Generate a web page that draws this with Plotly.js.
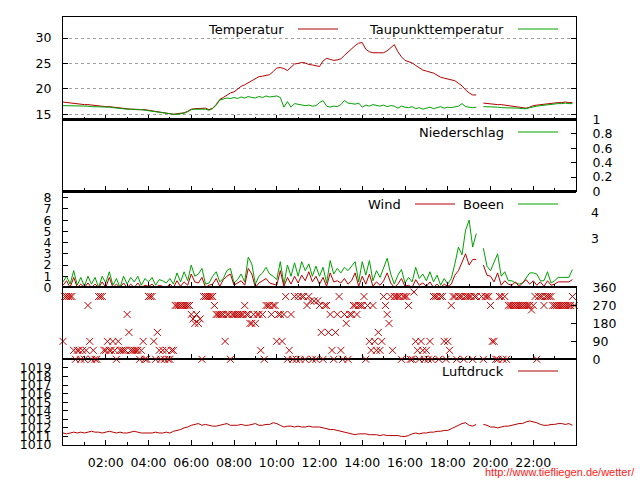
<!DOCTYPE html>
<html><head><meta charset="utf-8">
<script src="https://cdn.plot.ly/plotly-3.0.1.min.js"></script>
<style>html,body{margin:0;padding:0;background:#fff}#chart{width:640px;height:480px}</style>
</head><body><div id="chart"></div>
<script>
// ---- data (10-minute values, 00:00 .. 23:50) ----
const temperatur = [
17.4,17.3,17.3,17.2,17.1,17.0, 16.9,16.9,16.8,16.8,16.7,16.6, 16.5,16.5,16.4,16.3,16.2,16.1,
16.1,16.0,16.0,15.9,15.9,15.9, 15.8,15.7,15.6,15.4,15.3,15.2, 15.1,15.0,15.1,15.2,15.3,15.6,
16.0,16.1,16.1,16.2,16.2,15.9, 16.2,16.9,17.9,18.3,18.7,19.2, 19.4,20.0,20.5,20.8,21.2,21.7,
22.0,22.4,22.5,22.6,22.8,23.4, 24.1,24.2,24.0,23.6,24.2,24.9, 25.0,25.2,25.1,24.8,24.7,24.6,
24.4,25.5,26.0,25.8,25.6,25.7, 25.9,26.6,27.3,27.9,28.5,29.0, 29.1,27.8,27.3,27.1,27.1,27.0,
27.1,27.5,28.2,28.7,27.3,26.3, 25.6,25.4,25.1,24.6,24.1,23.7, 23.5,23.3,23.1,22.7,22.3,22.1,
21.9,21.8,21.6,21.1,20.6,19.8, 19.2,18.8,18.8,null,17.2,17.1, 17.0,16.9,16.9,16.9,16.8,16.8,
16.7,16.6,16.5,16.3,16.2,16.4, 16.7,16.8,16.9,17.0,17.1,17.1, 17.3,17.3,17.3,17.4,17.3,17.3];
const taupunkt = [
16.7,16.7,16.7,16.6,16.6,16.6, 16.6,16.6,16.5,16.5,16.5,16.4, 16.4,16.4,16.3,16.2,16.2,16.1,
16.0,16.0,15.9,15.9,15.9,15.8, 15.7,15.5,15.4,15.3,15.3,15.2, 15.1,15.0,15.0,15.1,15.2,15.5,
15.9,16.0,16.0,16.1,16.0,15.8, 16.1,16.8,17.8,18.0,18.2,18.1, 18.3,18.1,18.4,18.2,18.5,18.3,
18.2,18.5,18.3,18.6,18.4,18.5, 18.6,18.3,16.4,17.5,16.4,17.1, 17.0,16.8,16.7,16.8,16.6,16.7,
17.3,17.7,16.6,16.4,16.6,16.5, 16.9,17.7,17.2,17.1,17.0,17.2, 16.4,16.8,16.6,16.9,16.7,16.6,
16.8,16.5,16.7,16.6,16.2,16.6, 16.4,16.3,16.5,16.1,16.3,16.0, 16.2,16.4,16.1,16.3,16.5,16.2,
16.4,16.3,16.5,16.6,17.1,16.5, 16.4,16.3,16.4,null,16.5,16.5, 16.5,16.4,16.4,16.3,16.3,16.3,
16.3,16.3,16.2,16.1,16.1,16.3, 16.5,16.6,16.7,16.8,16.9,17.0, 17.1,17.1,17.1,17.2,17.1,17.1];
const niederschlag = [];
const wind = [
0.2,0.6,0.0,0.9,0.0,0.3, 0.0,0.4,0.0,0.3,0.0,0.5, 0.0,0.9,0.0,0.3,0.0,0.4,
0.0,0.3,0.0,0.4,0.0,0.2, 0.1,0.3,0.0,0.2,0.1,0.0, 0.3,0.0,0.6,0.1,0.5,0.2,
1.2,0.5,0.4,0.9,0.0,0.2, 0.3,0.8,0.1,0.7,1.0,1.2, 0.2,0.4,0.6,0.2,1.7,1.2,
0.0,0.4,0.6,0.8,0.4,0.3, 0.2,1.5,0.1,0.9,0.3,1.0, 0.4,1.1,0.6,1.4,0.5,1.0,
0.3,0.9,0.1,1.3,0.5,0.6, 0.4,0.8,0.3,0.6,1.3,0.1, 1.0,0.3,1.2,0.1,0.5,0.2,
0.6,1.3,0.4,0.0,0.3,0.8, 0.1,0.2,0.0,0.7,0.2,0.4, 0.1,0.5,0.0,0.3,0.0,0.3,
0.1,0.3,1.1,1.5,2.3,3.0, 2.0,2.5,2.5,null,2.0,1.1, 1.0,0.5,1.3,0.2,0.6,0.3,
0.2,0.5,0.1,0.4,0.7,0.3, 0.6,0.2,0.5,0.1,0.6,0.2, 0.3,0.5,0.5,0.5,0.5,0.7];
const boeen = [
0.5,1.0,0.3,1.5,0.2,0.9, 0.1,1.0,0.3,0.9,0.0,1.0, 0.4,1.4,0.2,0.8,0.0,1.0,
0.3,0.9,0.5,1.0,0.2,0.8, 0.5,0.9,0.2,0.7,0.6,0.4, 0.8,0.3,1.3,0.5,1.4,0.6,
2.0,1.0,1.2,1.7,0.3,0.4, 1.0,1.4,0.5,0.8,1.5,1.7, 0.4,0.7,1.2,0.5,2.7,2.1,
0.3,1.0,1.3,1.8,1.2,1.0, 0.7,2.3,0.3,2.0,1.0,2.2, 1.0,2.3,1.5,2.1,1.0,1.9,
1.0,1.8,0.4,2.4,1.2,1.7, 1.3,1.8,1.5,1.9,2.3,0.5, 2.3,1.1,2.4,0.6,1.5,0.9,
1.8,2.6,1.2,0.3,1.1,1.6, 0.4,0.9,0.5,1.8,0.8,1.2, 0.6,1.4,0.5,1.1,0.2,0.8,
0.3,0.8,2.1,3.6,2.9,5.1, 6.0,3.6,4.8,null,3.5,1.9, 1.5,2.2,3.0,1.0,1.4,0.6,
0.6,0.4,0.3,0.4,0.9,1.3, 1.3,1.2,0.6,0.6,1.4,0.4, 0.6,0.9,0.9,0.9,0.9,1.6];
const luftdruck = [
1011.4,1011.3,1011.4,1011.5,1011.4,1011.5, 1011.4,1011.5,1011.6,1011.5,1011.5,1011.4,
1011.5,1011.6,1011.5,1011.4,1011.5,1011.4, 1011.4,1011.5,1011.6,1011.5,1011.4,1011.4,
1011.4,1011.4,1011.5,1011.4,1011.4,1011.5, 1011.4,1011.6,1011.7,1011.8,1012.0,1012.1,
1012.3,1012.4,1012.5,1012.3,1012.4,1012.3, 1012.2,1012.2,1012.3,1012.4,1012.5,1012.3,
1012.3,1012.3,1012.4,1012.3,1012.3,1012.4, 1012.5,1012.3,1012.3,1012.4,1012.4,1012.6,
1012.5,1012.3,1012.1,1012.2,1012.2,1012.1, 1012.2,1012.1,1012.1,1012.2,1012.1,1012.1,
1012.1,1012.0,1011.9,1011.8,1011.8,1011.7, 1011.6,1011.5,1011.4,1011.3,1011.2,1011.3,
1011.3,1011.3,1011.2,1011.2,1011.2,1011.1, 1011.2,1011.1,1011.1,1011.1,1011.1,1011.0,
1011.0,1011.1,1011.3,1011.4,1011.3,1011.4, 1011.4,1011.5,1011.5,1011.6,1011.6,1011.7,
1011.7,1011.9,1012.1,1012.3,1012.5,1012.6, 1012.3,1012.2,1012.4,null,1012.4,1012.3,
1012.1,1012.1,1012.0,1012.1,1012.2,1012.2, 1012.3,1012.4,1012.5,1012.5,1012.7,1012.8,
1012.7,1012.6,1012.4,1012.3,1012.3,1012.4, 1012.4,1012.5,1012.5,1012.4,1012.5,1012.3];
// wind direction, 5-minute values, degrees
const richtung = [
90,315,315,315,315,315,45,0,45,45,0,45,
0,45,270,90,0,45,0,0,315,315,315,45,
45,90,45,45,90,45,0,90,45,45,45,45,
225,135,45,45,45,45,45,0,45,90,0,0,
315,315,315,90,0,135,45,0,45,0,45,0,
0,45,45,270,270,270,270,270,270,270,270,270,
225,202.5,180,225,180,202.5,0,315,315,315,315,315,
315,270,225,225,225,225,225,90,225,225,0,225,
225,225,225,225,225,225,270,225,225,180,180,225,
180,225,225,45,225,0,270,270,270,225,270,270,
90,225,225,90,225,315,0,45,225,0,315,0,
315,0,315,315,0,270,315,292.5,0,292.5,0,292.5,
270,135,0,270,270,135,225,45,0,135,225,315,
45,0,225,180,0,225,225,270,270,225,270,270,
270,315,0,270,90,45,270,90,45,135,45,90,
315,270,225,180,315,45,315,315,315,315,0,315,
315,315,270,0,0,337.5,90,45,0,90,45,0,
45,0,90,0,315,315,315,0,315,315,90,0,
90,45,270,315,315,0,315,315,315,0,315,315,
315,315,0,315,315,null,null,315,0,315,315,315,
270,90,90,0,0,315,315,0,315,0,270,270,
270,270,270,270,270,270,270,270,270,270,270,247.5,
270,315,0,315,315,315,270,315,315,315,315,270,
270,270,270,270,270,270,270,270,270,270,315,270];
const zeitTicks = [2,4,6,8,10,12,14,16,18,20,22];
const zeitLabels = ["02:00","04:00","06:00","08:00","10:00","12:00","14:00","16:00","18:00","20:00","22:00"];
const beaufortGrenzen = [1.5,3.3,5.4,7.9];
const beaufortMitte = [4.35,6.65];
const beaufortLabels = ["3","4"];

// time axes (hours of day)
const t10 = temperatur.map((_, i) => i / 6);
const t5 = richtung.map((_, i) => i / 12);

const RED = "#b40000", GREEN = "#00a000", FONT = "DejaVu Sans";
const tickFont = {family: FONT, size: 12.5, color: "#000"};

const traces = [
  {x: t10, y: temperatur, xaxis: "x2", yaxis: "y", mode: "lines", line: {color: RED, width: 1}, name: "Temperatur"},
  {x: t10, y: taupunkt, xaxis: "x2", yaxis: "y", mode: "lines", line: {color: GREEN, width: 1}, name: "Taupunkttemperatur"},
  {x: t10.slice(0, niederschlag.length), y: niederschlag, xaxis: "x3", yaxis: "y2", mode: "lines", line: {color: GREEN, width: 1}, name: "Niederschlag"},
  {x: t10, y: boeen, xaxis: "x4", yaxis: "y3", mode: "lines", line: {color: GREEN, width: 1}, name: "Boeen"},
  {x: t10, y: wind, xaxis: "x4", yaxis: "y3", mode: "lines", line: {color: RED, width: 1}, name: "Wind"},
  {x: t5, y: richtung, xaxis: "x5", yaxis: "y6", mode: "markers", cliponaxis: false,
   marker: {symbol: "x-thin-open", size: 7, color: "#c00000", line: {color: "#c00000", width: 1}}, name: "Richtung"},
  {x: t10, y: luftdruck, xaxis: "x", yaxis: "y7", mode: "lines", line: {color: RED, width: 1}, name: "Luftdruck"}
];

const D = {temp: [0.7605, 1], rain: [0.5923, 0.7605], wind: [0.368, 0.5923], dir: [0.2002, 0.368], press: [0, 0.2002]};

function xax(anchor, labels) {
  return {
    anchor: anchor, range: [0, 24], showline: true, linecolor: "#000", linewidth: 1, mirror: true,
    ticks: "inside", ticklen: 5, tickcolor: "#000", tickmode: "array", tickvals: zeitTicks, ticktext: zeitLabels,
    minor: {tickmode: "array", tickvals: [1,3,5,7,9,11,13,15,17,19,21,23], ticks: "inside", ticklen: 3, tickcolor: "#000"},
    showgrid: false, zeroline: false, showticklabels: labels, tickfont: tickFont, ticklabelstandoff: 6,
    matches: labels ? undefined : "x", fixedrange: true
  };
}
function yax(domain, range, extra) {
  return Object.assign({
    domain: domain, range: range, showline: true, linecolor: "#000", linewidth: 1, mirror: true,
    ticks: "inside", ticklen: 5, tickcolor: "#000", showgrid: false, zeroline: false,
    tickfont: tickFont, ticklabelstandoff: 8, fixedrange: true
  }, extra);
}

const px = x => (x - 63) / 513;
const py = y => (445 - y) / 428;

const legend = [
  ["Temperatur", 286, 298, 338, 29, RED],
  ["Taupunkttemperatur", 506, 518, 558, 29, GREEN],
  ["Niederschlag", 506, 518, 558, 132, GREEN],
  ["Wind", 403, 415, 455, 204, RED],
  ["Boeen", 506, 518, 558, 204, GREEN],
  ["Luftdruck", 506, 518, 558, 371, RED]
];
const annotations = legend.map(l => ({
  text: l[0], xref: "paper", yref: "paper", x: px(l[1]), y: py(l[4]), xanchor: "right", yanchor: "middle",
  showarrow: false, font: {family: FONT, size: 13, color: "#000"}
}));
beaufortMitte.forEach((v, i) => annotations.push({text: beaufortLabels[i], xref: "paper", yref: "y3",
  x: px(589), y: v, xanchor: "left", yanchor: "middle", showarrow: false, font: tickFont}));
annotations.push({text: "http://www.tiefliegen.de/wetter/", xref: "paper", yref: "paper",
  x: px(637), y: py(472), xanchor: "right", yanchor: "middle", showarrow: false,
  font: {family: "Liberation Sans", size: 11, color: "#ff2020"}});
const shapes = legend.map(l => ({type: "line", xref: "paper", yref: "paper", x0: px(l[2]), x1: px(l[3]),
  y0: py(l[4]), y1: py(l[4]), line: {color: l[5], width: 1}}));
shapes.push({type: "line", xref: "paper", yref: "paper", x0: 0, x1: 1, y0: D.temp[0], y1: D.temp[0], line: {color: "#000", width: 3}});
shapes.push({type: "line", xref: "paper", yref: "paper", x0: 0, x1: 1, y0: D.rain[0], y1: D.rain[0], line: {color: "#000", width: 3}});

const layout = {
  width: 640, height: 480, margin: {l: 63, r: 64, t: 17, b: 35}, showlegend: false,
  paper_bgcolor: "#fff", plot_bgcolor: "#fff", font: {family: FONT, size: 12.5, color: "#000"},
  xaxis: xax("y7", true), xaxis2: xax("y", false), xaxis3: xax("y2", false), xaxis4: xax("y3", false), xaxis5: xax("y6", false),
  yaxis: yax(D.temp, [13.97, 34.14], {tickvals: [15,20,25,30], showgrid: true, gridcolor: "#a0a0a0", griddash: "dot", gridwidth: 1, mirror: "ticks"}),
  yaxis2: yax(D.rain, [0, 1], {side: "right", tickvals: [0,0.2,0.4,0.6,0.8,1], ticktext: ["0","0.2","0.4","0.6","0.8","1"], anchor: "x3", ticklabelstandoff: 13}),
  yaxis3: yax(D.wind, [0, 8.55], {tickvals: [0,1,2,3,4,5,6,7,8], anchor: "x4", mirror: false}),
  yaxis4: yax(D.wind, [0, 8.55], {overlaying: "y3", side: "right", anchor: "x4", tickvals: beaufortGrenzen, showticklabels: false,
    showgrid: true, gridcolor: "#a0a0a0", griddash: "dot", gridwidth: 1, mirror: false}),
  yaxis6: yax(D.dir, [0, 360], {side: "right", tickvals: [0,90,180,270,360], anchor: "x5", ticklabelstandoff: 13}),
  yaxis7: yax(D.press, [1010, 1020], {tickvals: [1010,1011,1012,1013,1014,1015,1016,1017,1018,1019], ticktext: ["1010","1011","1012","1013","1014","1015","1016","1017","1018","1019"], anchor: "x"}),
  annotations: annotations, shapes: shapes
};

Plotly.newPlot("chart", traces, layout, {staticPlot: true, displayModeBar: false});
</script></body></html>
